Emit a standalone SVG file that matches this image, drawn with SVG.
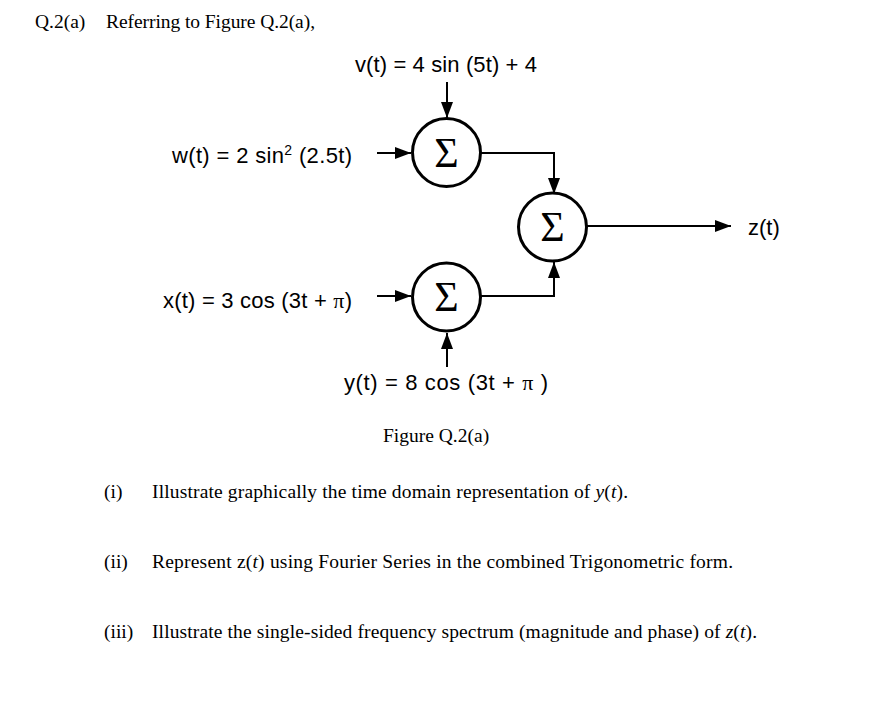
<svg xmlns="http://www.w3.org/2000/svg" width="874" height="710" viewBox="0 0 874 710">
<style>
.serif{font-family:"Liberation Serif","Times New Roman",serif;fill:#000;font-size:19.5px}
.sans{font-family:"Liberation Sans",Arial,sans-serif;fill:#000;font-size:22px}
.pi{font-family:"Liberation Serif","Times New Roman",serif}
.sum{fill:#fff;stroke:#000;stroke-width:3}
.sig{font-family:"Liberation Serif","Times New Roman",serif;font-size:42px;text-anchor:middle}
.wire{fill:none;stroke:#000;stroke-width:2}
</style>
<defs>
<marker id="ah" viewBox="0 0 16 12" refX="16" refY="6" markerWidth="16" markerHeight="12" markerUnits="userSpaceOnUse" orient="auto">
<path d="M0,0 L16,6 L0,12 Z" fill="#000"/>
</marker>
</defs>
<rect width="874" height="710" fill="#fff"/>
<text class="serif" x="35" y="28">Q.2(a)</text>
<text class="serif" x="106" y="28" textLength="209">Referring to Figure Q.2(a),</text>

<g id="connectors">
<line class="wire" x1="447" y1="82" x2="447" y2="118" marker-end="url(#ah)"/>
<line class="wire" x1="377" y1="153" x2="411" y2="153" marker-end="url(#ah)"/>
<polyline class="wire" points="481,153 554,153 554,194" marker-end="url(#ah)"/>
<line class="wire" x1="377" y1="296" x2="411" y2="296" marker-end="url(#ah)"/>
<line class="wire" x1="447" y1="367" x2="447" y2="333" marker-end="url(#ah)"/>
<polyline class="wire" points="481,296 554,296 554,262" marker-end="url(#ah)"/>
<line class="wire" x1="587" y1="226" x2="731" y2="226" marker-end="url(#ah)"/>
</g>

<g id="sum1">
<circle class="sum" cx="446.5" cy="152.5" r="34"/>
<text class="sig" x="446.5" y="166.5">Σ</text>
</g>
<g id="sum2">
<circle class="sum" cx="446.5" cy="297" r="34"/>
<text class="sig" x="446.5" y="311">Σ</text>
</g>
<g id="sum3">
<circle class="sum" cx="552.5" cy="227" r="34"/>
<text class="sig" x="552.5" y="241">Σ</text>
</g>

<g id="v"><text class="sans" x="355" y="72" textLength="182">v(t) = 4 sin (5t) + 4</text></g>
<g id="w"><text class="sans" x="172" y="163" textLength="180">w(t) = 2 sin<tspan font-size="14" dy="-8">2</tspan><tspan dy="8"> (2.5t)</tspan></text></g>
<g id="x"><text class="sans" x="163" y="308" textLength="189">x(t) = 3 cos (3t + <tspan class="pi">π</tspan>)</text></g>
<g id="y"><text class="sans" x="344" y="390" textLength="204">y(t) = 8 cos (3t + <tspan class="pi">π</tspan>  )</text></g>
<g id="z"><text class="sans" x="748" y="235">z(t)</text></g>

<text class="serif" x="383" y="442">Figure Q.2(a)</text>
<text class="serif" x="104" y="498">(i)</text>
<text class="serif" x="152" y="498" textLength="476">Illustrate graphically the time domain representation of <tspan font-style="italic">y</tspan>(<tspan font-style="italic">t</tspan>).</text>
<text class="serif" x="104" y="568">(ii)</text>
<text class="serif" x="152" y="568" textLength="581">Represent z(<tspan font-style="italic">t</tspan>) using Fourier Series in the combined Trigonometric form.</text>
<text class="serif" x="104" y="638">(iii)</text>
<text class="serif" x="152" y="638" textLength="605">Illustrate the single-sided frequency spectrum (magnitude and phase) of <tspan font-style="italic">z</tspan>(<tspan font-style="italic">t</tspan>).</text>
</svg>
